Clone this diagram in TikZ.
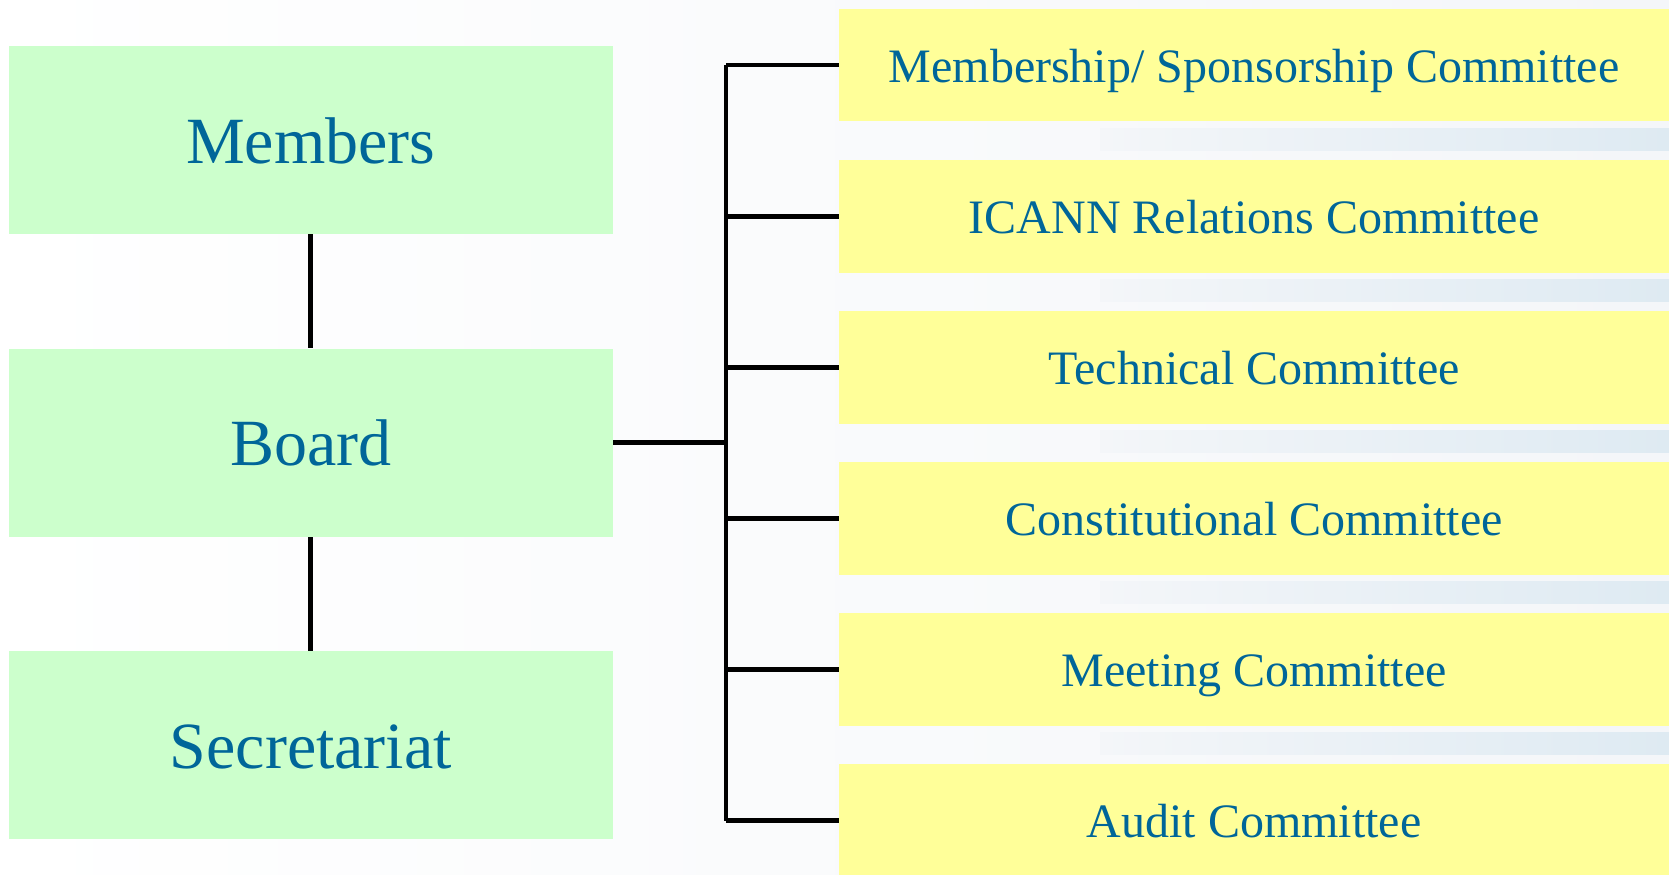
\documentclass[tikz,border=0pt]{standalone}
\usepackage{fontspec}
\setmainfont{Liberation Serif}
\usetikzlibrary{positioning}

\definecolor{textblue}{RGB}{0,102,153}
\definecolor{boardgreen}{RGB}{204,255,204}
\definecolor{comyellow}{RGB}{255,255,153}
\definecolor{paper}{RGB}{244,246,249}
\definecolor{streak}{RGB}{222,234,242}

\tikzset{
  orgbox/.style={fill=boardgreen, minimum width=302pt, minimum height=94pt,
    inner sep=0pt, text height=30pt, text depth=7pt,
    text=textblue, font=\fontsize{33}{36}\selectfont},
  combox/.style={fill=comyellow, minimum width=415pt, minimum height=56.4pt,
    inner sep=0pt, text height=22pt, text depth=5pt,
    text=textblue, font=\fontsize{24}{28}\selectfont},
  link/.style={line width=2.4pt, black}
}

\begin{document}
\begin{tikzpicture}[x=0.5pt, y=-0.5pt]

  % Page frame and background
  \useasboundingbox (0,0) rectangle (1669,874);
  \clip (0,0) rectangle (1669,874);
  \fill[left color=white, right color=paper] (0,0) rectangle (1669,874);

  % Faint streaks between the committee boxes
  \foreach \k in {0,...,4}{
    \fill[left color=paper, right color=streak]
      (1100,128+151.1*\k) rectangle (1669,150+151.1*\k);
  }

  % === Left column
  \node[orgbox] (members)     at (310.8,140)   {Members};
  \node[orgbox] (board)       at (310.8,442.7) {Board};
  \node[orgbox] (secretariat) at (310.8,745.3) {Secretariat};

  \draw[link] (members.south) -- (board.north);
  \draw[link] (board.south) -- (secretariat.north);

  % === Committees
  \coordinate (bus) at (726,0);
  \foreach \i/\name in {1/{Membership/ Sponsorship Committee},
                        2/{ICANN Relations Committee},
                        3/{Technical Committee},
                        4/{Constitutional Committee},
                        5/{Meeting Committee},
                        6/{Audit Committee}}{
    \node[combox] (c\i) at (1254,65+151.1*\i-151.1) {\name};
    \draw[link] (c\i.west) -- (c\i.west -| bus);
  }

  % Bus line
  \draw[link] (c1.west -| bus) -- (c6.west -| bus);
  \draw[link] (board.east) -- (board.east -| bus);

\end{tikzpicture}
\end{document}
